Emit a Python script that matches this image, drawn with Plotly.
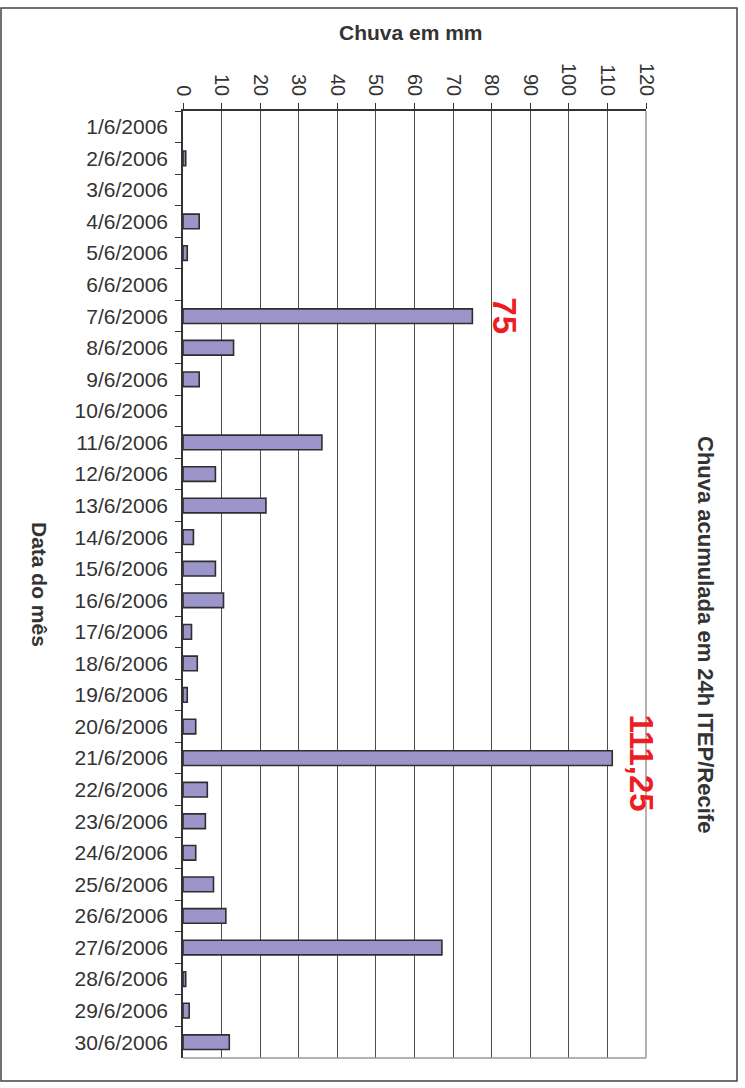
import plotly.graph_objects as go

# Daily rainfall (mm) for June 2006, ITEP/Recife station
dates = [f"{d}/6/2006" for d in range(1, 31)]
rain_mm = [
    0, 0.7, 0, 4.2, 1.1, 0, 75, 13.1, 4.2, 0,
    36.0, 8.4, 21.5, 2.7, 8.4, 10.5, 2.2, 3.7, 1.1, 3.3,
    111.25, 6.3, 5.8, 3.3, 7.9, 11.1, 67.1, 0.7, 1.6, 12.0,
]
x_ticks = list(range(0, 121, 10))

# Highlighted totals
highlight_dates = ["7/6/2006", "21/6/2006"]
highlight_values = [75, 111.25]
highlight_texts = ["75", "111,25"]

W, H = 745, 1088
L, R, T, B = 183, 99, 111, 30
pw, ph = W - L - R, H - T - B


def px_to_paper(px, py):
    return (px - L) / pw, (H - B - py) / ph


FONT = "Liberation Sans, Arial, sans-serif"

# no outline on days without rain
outline_w = [1.6 if v > 0 else 0 for v in rain_mm]

fig = go.Figure(
    go.Bar(
        x=rain_mm,
        y=dates,
        orientation="h",
        marker=dict(color="#9b95c9", line=dict(color="#2e2e2e", width=outline_w)),
    )
)

annotations = []
for d, v, t, xs, ys in zip(highlight_dates, highlight_values, highlight_texts, [12, 9], [0, 5]):
    annotations.append(
        dict(
            x=v, y=d, xref="x", yref="y", text=f"<b>{t}</b>", showarrow=False,
            textangle=90, xanchor="left", yanchor="middle", xshift=xs, yshift=-ys,
            font=dict(family=FONT, size=33, color="#ee1c24"),
        )
    )

tx, ty = px_to_paper(411, 32)
annotations.append(dict(x=tx, y=ty, xref="paper", yref="paper", text="<b>Chuva em mm</b>",
                        showarrow=False, xanchor="center", yanchor="middle",
                        font=dict(family=FONT, size=21, color="#333333")))
lx, ly = px_to_paper(40, 584)
annotations.append(dict(x=lx, y=ly, xref="paper", yref="paper", text="<b>Data do mês</b>",
                        showarrow=False, textangle=90, xanchor="center", yanchor="middle",
                        font=dict(family=FONT, size=21, color="#333333")))
rx, ry = px_to_paper(706, 634)
annotations.append(dict(x=rx, y=ry, xref="paper", yref="paper",
                        text="<b>Chuva acumulada em 24h ITEP/Recife</b>",
                        showarrow=False, textangle=90, xanchor="center", yanchor="middle",
                        font=dict(family=FONT, size=22, color="#333333")))

bx0, by0 = px_to_paper(1, 8)
bx1, by1 = px_to_paper(737, 1081)

shapes = [
    # outer frame of the chart
    dict(type="rect", xref="paper", yref="paper", x0=bx0, y0=by1, x1=bx1, y1=by0,
         line=dict(color="#444444", width=1.5)),
    # right and bottom edges of the plot area
    dict(type="line", xref="paper", yref="paper", x0=1, y0=0, x1=1, y1=1,
         line=dict(color="#a39696", width=1.5)),
    dict(type="line", xref="paper", yref="paper", x0=0, y0=0, x1=1, y1=0,
         line=dict(color="#a39696", width=1.5)),
]

fig.update_layout(
    width=W, height=H,
    margin=dict(l=L, r=R, t=T, b=B),
    paper_bgcolor="white", plot_bgcolor="white",
    showlegend=False,
    bargap=0.535,
    font=dict(family=FONT, color="#333333"),
    annotations=annotations,
    shapes=shapes,
    xaxis=dict(
        side="top", range=[0, 120], tickvals=x_ticks, ticktext=[str(v) for v in x_ticks],
        tickangle=90, tickfont=dict(size=20, color="#333333"),
        ticks="outside", ticklen=6, tickcolor="#333333",
        showgrid=True, gridcolor="#4d4d4d", gridwidth=1,
        zeroline=False, showline=True, linecolor="#333333", linewidth=1.5,
        fixedrange=True,
    ),
    yaxis=dict(
        type="category", categoryorder="array", categoryarray=dates,
        autorange="reversed", tickfont=dict(size=21, color="#333333"),
        ticks="outside", ticklen=6, tickcolor="#333333", tickson="boundaries",
        ticklabelstandoff=9,
        showgrid=False, zeroline=False, showline=True, linecolor="#333333", linewidth=1.5,
        fixedrange=True,
    ),
)

fig.write_html("out.html")
